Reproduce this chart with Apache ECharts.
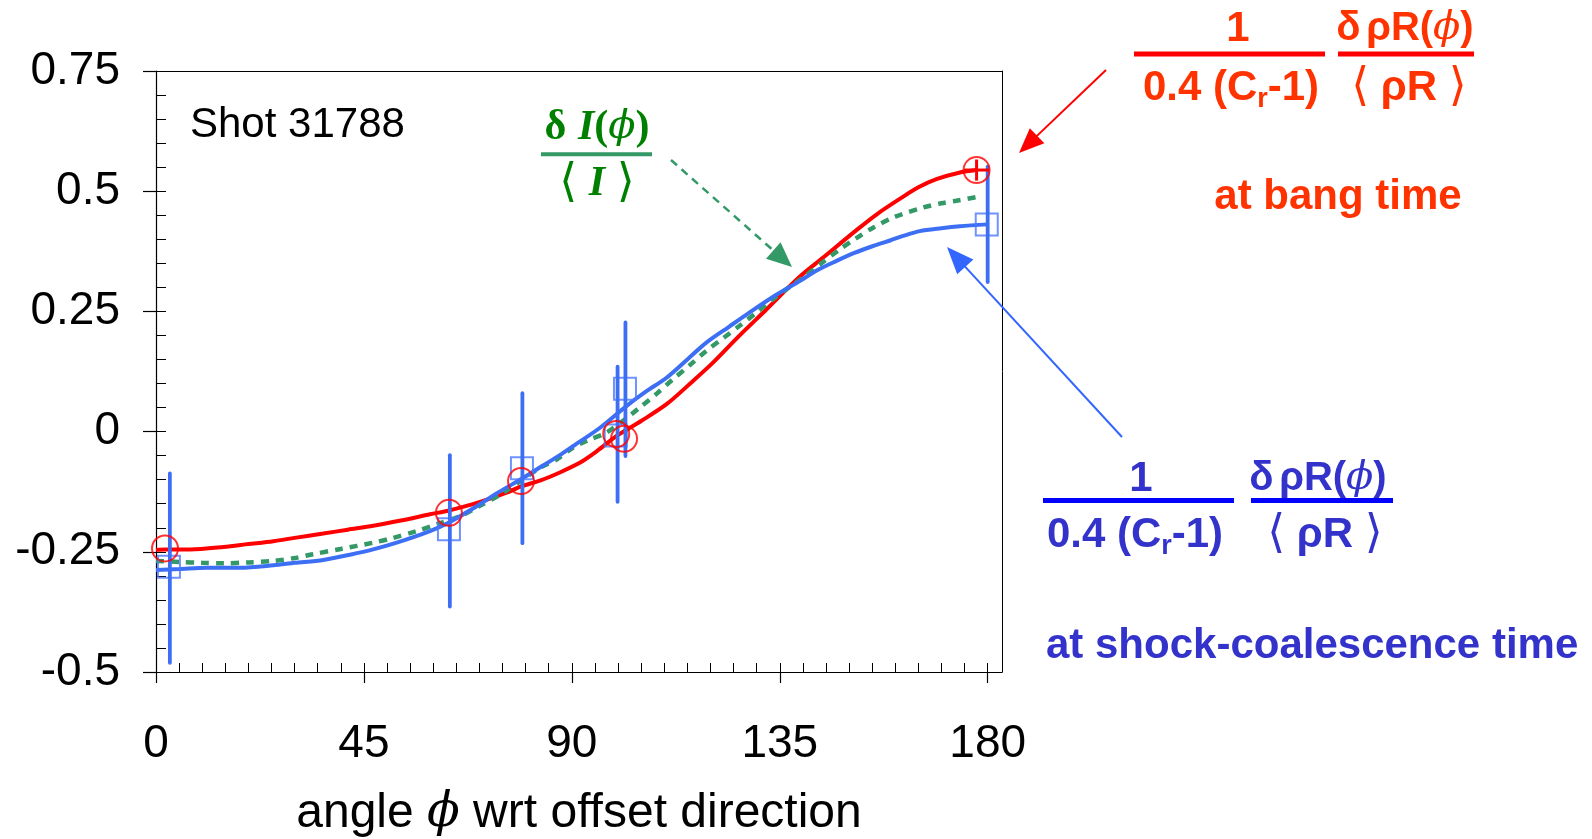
<!DOCTYPE html>
<html><head><meta charset="utf-8">
<script src="https://cdn.jsdelivr.net/npm/echarts@6/dist/echarts.min.js"></script>
<style>html,body{margin:0;padding:0;background:#fff}#c{width:1592px;height:839px}</style>
</head><body><div id="c"></div>
<script>
// ---- data (angle in degrees, normalized perturbation) ----
const xTickLabels = [0, 45, 90, 135, 180];
const redCurve = [[0,-0.246],[2,-0.245],[7.4,-0.245],[14.6,-0.240],[20,-0.234],[25.4,-0.228],[30,-0.221],[36.2,-0.212],[41.5,-0.204],[47,-0.196],[53,-0.185],[59.3,-0.172],[63.4,-0.164],[68.6,-0.151],[75.9,-0.127],[79,-0.114],[83.1,-0.102],[87.4,-0.085],[91.7,-0.065],[95.5,-0.040],[99.7,-0.009],[105,0.022],[110.5,0.057],[115.5,0.099],[120.6,0.144],[126,0.197],[132.1,0.254],[139.3,0.322],[144.4,0.362],[151.6,0.419],[156,0.452],[161.3,0.486],[165,0.508],[168.9,0.525],[174,0.539],[177.6,0.544]];
const greenCurve = [[0,-0.269],[5,-0.271],[10,-0.273],[14.6,-0.274],[20,-0.272],[25.4,-0.269],[30,-0.263],[34,-0.255],[40,-0.244],[47,-0.231],[51,-0.222],[56.4,-0.207],[61,-0.192],[65.8,-0.176],[70,-0.155],[75,-0.128],[79.5,-0.099],[83.1,-0.075],[86.7,-0.058],[90.3,-0.033],[93.5,-0.018],[97.5,-0.002],[101,0.022],[104.7,0.050],[108.5,0.080],[111.9,0.109],[115.5,0.138],[119.1,0.168],[122.7,0.194],[126.3,0.220],[130,0.248],[133.5,0.275],[137,0.300],[140,0.320],[144,0.350],[148,0.379],[151.5,0.402],[155.2,0.424],[160,0.447],[166,0.466],[170,0.475],[173.2,0.480],[177.6,0.488]];
const blueCurve = [[0,-0.288],[5,-0.286],[11,-0.283],[18.2,-0.283],[25.4,-0.278],[30,-0.273],[36.2,-0.267],[42,-0.256],[47,-0.245],[52.1,-0.231],[59.3,-0.207],[63.4,-0.189],[68.6,-0.160],[74,-0.127],[79.5,-0.096],[83.5,-0.072],[87.4,-0.049],[90.3,-0.030],[96.1,0.008],[101.8,0.053],[106,0.083],[110.5,0.112],[115,0.150],[119.1,0.185],[124,0.218],[128.5,0.248],[134,0.283],[139.3,0.313],[143,0.335],[147.3,0.355],[151,0.371],[155.2,0.386],[159,0.398],[161.7,0.407],[165.3,0.417],[170,0.423],[174,0.427],[180,0.431]];
const redPoints = [[1.95,-0.243],[63.4,-0.169],[79.0,-0.103],[99.6,-0.005],[101.3,-0.015],[177.6,0.544]];
const bluePoints = [[2.8,-0.281],[63.4,-0.203],[79.2,-0.076],[101.5,0.089],[99.5,-0.008],[179.8,0.431]];
// [x, low, high]
const blueErrorBars = [[3.0,-0.481,-0.087],[63.6,-0.364,-0.049],[79.3,-0.232,0.080],[101.6,-0.051,0.227],[99.9,-0.146,0.135],[180,0.311,0.551]];
// [x, y, dx, dy]
const redCrossBars = [[177.6,0.544,2.7,0.022]];

const RED = '#ff0000', BLUE = '#3d6ff5', GREEN = '#339966';
const SANS = "'Liberation Sans', Arial, sans-serif";
const SERIF = "'Liberation Serif', 'DejaVu Serif', serif";
const MATH = "'DejaVu Serif', serif";

const minorX = []; for (let v = 0; v <= 180; v += 5) minorX.push(v);

function arrow(x1, y1, x2, y2, color, lw, dash, hl, hw) {
  const dx = x2 - x1, dy = y2 - y1, L = Math.hypot(dx, dy), ux = dx / L, uy = dy / L;
  const bx = x2 - ux * hl, by = y2 - uy * hl, px = -uy, py = ux;
  return [
    {type: 'line', shape: {x1, y1, x2: bx + ux * 2, y2: by + uy * 2}, style: {stroke: color, lineWidth: lw, lineDash: dash || null}, z: 50},
    {type: 'polygon', shape: {points: [[x2, y2], [bx + px * hw / 2, by + py * hw / 2], [bx - px * hw / 2, by - py * hw / 2]]}, style: {fill: color}, z: 50}
  ];
}
function txt(x, y, text, color, size, extra) {
  return Object.assign({type: 'text', x, y, z: 50, style: Object.assign({text, fill: color, fontSize: size, fontWeight: 'bold', fontFamily: SANS, align: 'center', verticalAlign: 'middle'}, extra || {})});
}
function fracRich(color) {
  return {
    r: {fontSize: 27, fontWeight: 'bold', fontFamily: SANS, fill: color, verticalAlign: 'bottom', lineHeight: 30},
    b: {fontSize: 46, fontWeight: 'normal', fontFamily: "'DejaVu Sans', sans-serif", fill: color},
    s: {fontSize: 20, fill: color},
    p: {fontSize: 40, fontStyle: 'italic', fontWeight: 'normal', fontFamily: MATH, fill: color}
  };
}
function bar(x1, x2, y, color, h) {
  return {type: 'rect', z: 50, shape: {x: x1, y: y - h / 2, width: x2 - x1, height: h}, style: {fill: color}};
}

const RT = '#ff3300', BT = '#3333cc';
const graphics = [
  {type: 'text', x: 190, y: 125, z: 50, style: {text: 'Shot 31788', fill: '#000', fontSize: 42, fontFamily: SANS, align: 'left', verticalAlign: 'middle'}},
  // red annotation
  txt(1238, 29, '1', RT, 42),
  bar(1134, 1325, 54, RED, 5),
  txt(1405, 29, 'δ{s| }ρR({p|ϕ})', RT, 40, {rich: fracRich(RT)}),
  bar(1338, 1474, 54, RED, 5),
  txt(1231, 88, '0.4 (C{r|r}-1)', RT, 42, {rich: fracRich(RT), lineHeight: 50}),
  txt(1409, 88, '{b|⟨} ρR {b|⟩}', RT, 42, {rich: fracRich(RT)}),
  txt(1338, 197, 'at bang time', RT, 42),
  ...arrow(1106, 70, 1019, 153, RED, 2, null, 25, 21),
  // blue annotation
  txt(1141, 479, '1', BT, 42),
  bar(1043, 1234, 500.5, '#0000ff', 5),
  txt(1318, 479, 'δ{s| }ρR({p|ϕ})', BT, 40, {rich: fracRich(BT)}),
  bar(1251, 1393, 500.5, '#0000ff', 5),
  txt(1135, 535, '0.4 (C{r|r}-1)', BT, 42, {rich: fracRich(BT), lineHeight: 50}),
  txt(1325, 535, '{b|⟨} ρR {b|⟩}', BT, 42, {rich: fracRich(BT)}),
  txt(1046, 646, 'at shock-coalescence time', BT, 42, {align: 'left'}),
  ...arrow(1122, 437, 947, 247, '#3366ff', 2, null, 27, 22),
  // green annotation
  txt(597, 128, '{d|δ} {i|I}{d|(}{p|ϕ}{d|)}', '#008000', 42, {rich: {
    d: {fontFamily: SERIF, fontWeight: 'bold', fontSize: 42, fill: '#008000'},
    i: {fontFamily: SERIF, fontWeight: 'bold', fontStyle: 'italic', fontSize: 42, fill: '#008000'},
    p: {fontFamily: MATH, fontWeight: 'normal', fontStyle: 'italic', fontSize: 40, fill: '#008000'}}}),
  bar(541, 652, 154.3, GREEN, 4),
  txt(597, 184, '{a|⟨} {i|I} {a|⟩}', '#008000', 42, {rich: {
    a: {fontFamily: "'DejaVu Sans', sans-serif", fontSize: 46, fill: '#008000'},
    i: {fontFamily: SERIF, fontWeight: 'bold', fontStyle: 'italic', fontSize: 42, fill: '#008000'}}}),
  ...arrow(671, 160, 792, 267, GREEN, 2.5, [8, 6], 25, 22)
];

const XMAX = 183.1;
const baseX = {type: 'value', min: 0, max: XMAX, gridIndex: 0};
const baseY = {type: 'value', min: -0.5, max: 0.75, gridIndex: 0};
const noLbl = {show: false};

const option = {
  animation: false,
  backgroundColor: '#fff',
  textStyle: {fontFamily: SANS},
  grid: {left: 156, right: 590, top: 71, bottom: 167, containLabel: false, outerBoundsMode: 'none'},
  xAxis: [
    Object.assign({}, baseX, {
      position: 'bottom', interval: 45,
      axisLine: {show: true, onZero: false, lineStyle: {color: '#000', width: 1.2}},
      axisTick: {show: true, inside: false, length: 11, customValues: xTickLabels, lineStyle: {color: '#000', width: 1.2}},
      axisLabel: {show: true, customValues: xTickLabels, margin: 49, fontSize: 46, color: '#000', fontFamily: SANS,
        formatter: v => (xTickLabels.indexOf(v) >= 0 ? String(v) : '')},
      splitLine: {show: false},
      name: 'angle {p|ϕ} wrt offset direction', nameLocation: 'middle', nameGap: 118,
      nameTextStyle: {fontSize: 48, color: '#000', fontFamily: SANS,
        rich: {p: {fontSize: 48, fontStyle: 'italic', fontFamily: MATH, color: '#000'}}}
    }),
    Object.assign({}, baseX, {
      position: 'bottom', interval: 5,
      axisLine: {show: false, onZero: false},
      axisTick: {show: true, inside: true, length: 9, customValues: minorX, lineStyle: {color: '#000', width: 1}},
      axisLabel: noLbl, splitLine: {show: false}
    }),
    Object.assign({}, baseX, {
      position: 'top', interval: 45,
      axisLine: {show: true, onZero: false, lineStyle: {color: '#000', width: 1}},
      axisTick: {show: false}, axisLabel: noLbl, splitLine: {show: false}
    })
  ],
  yAxis: [
    Object.assign({}, baseY, {
      position: 'left', interval: 0.25,
      axisLine: {show: true, onZero: false, lineStyle: {color: '#000', width: 1.2}},
      axisTick: {show: true, inside: false, length: 13, lineStyle: {color: '#000', width: 1.2}},
      axisLabel: {show: true, margin: 36, fontSize: 46, color: '#000', fontFamily: SANS},
      splitLine: {show: false}
    }),
    Object.assign({}, baseY, {
      position: 'left', interval: 0.05,
      axisLine: {show: false, onZero: false},
      axisTick: {show: true, inside: true, length: 10, lineStyle: {color: '#000', width: 1}},
      axisLabel: noLbl, splitLine: {show: false}
    }),
    Object.assign({}, baseY, {
      position: 'right', interval: 0.25,
      axisLine: {show: true, onZero: false, lineStyle: {color: '#000', width: 1}},
      axisTick: {show: false}, axisLabel: noLbl, splitLine: {show: false}
    })
  ],
  graphic: graphics,
  series: [
    {type: 'line', name: 'red', data: redCurve, showSymbol: false, smooth: 0.3, lineStyle: {color: RED, width: 4}, z: 3, silent: true},
    {type: 'line', name: 'green', data: greenCurve, showSymbol: false, smooth: 0.3, lineStyle: {color: GREEN, width: 4.5, type: [8, 7]}, z: 4, silent: true},
    {type: 'line', name: 'blue', data: blueCurve, showSymbol: false, smooth: 0.3, lineStyle: {color: BLUE, width: 4}, z: 5, silent: true},
    {type: 'scatter', name: 'blueSq', data: bluePoints, symbol: 'rect', symbolSize: 22,
      itemStyle: {color: 'rgba(0,0,0,0)', borderColor: '#4a78ff', borderWidth: 2}, z: 6, silent: true},
    {type: 'custom', name: 'blueErr', data: blueErrorBars, encode: {x: 0, y: [1, 2]}, z: 7, silent: true,
      renderItem: (params, api) => {
        const lo = api.coord([api.value(0), api.value(1)]);
        const hi = api.coord([api.value(0), api.value(2)]);
        return {type: 'line', shape: {x1: lo[0], y1: lo[1], x2: hi[0], y2: hi[1]}, style: {stroke: BLUE, lineWidth: 3.8, lineCap: 'round'}};
      }},
    {type: 'scatter', name: 'redCirc', data: redPoints, symbol: 'circle', symbolSize: 26,
      itemStyle: {color: 'rgba(0,0,0,0)', borderColor: RED, borderWidth: 2}, z: 8, silent: true},
    {type: 'custom', name: 'redCross', data: redCrossBars, encode: {x: 0, y: 1}, z: 9, silent: true,
      renderItem: (params, api) => {
        const x = api.value(0), y = api.value(1), dx = api.value(2), dy = api.value(3);
        const a = api.coord([x - dx, y]), b = api.coord([x + dx, y]);
        const c = api.coord([x, y - dy]), d = api.coord([x, y + dy]);
        return {type: 'group', children: [
          {type: 'line', shape: {x1: a[0], y1: a[1], x2: b[0], y2: b[1]}, style: {stroke: RED, lineWidth: 3}},
          {type: 'line', shape: {x1: c[0], y1: c[1], x2: d[0], y2: d[1]}, style: {stroke: RED, lineWidth: 3}}
        ]};
      }}
  ]
};
const chart = echarts.init(document.getElementById('c'), null, {renderer: 'canvas'});
chart.setOption(option);
</script></body></html>
